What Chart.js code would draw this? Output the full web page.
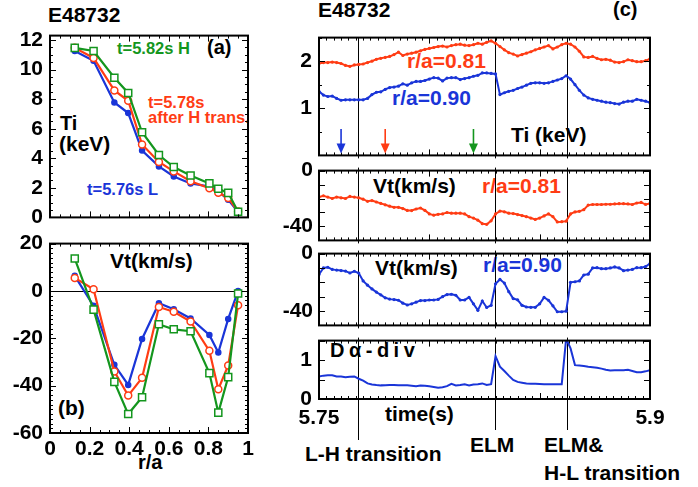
<!DOCTYPE html>
<html>
<head>
<meta charset="utf-8">
<script src="https://cdn.jsdelivr.net/npm/chart.js@4.4.0/dist/chart.umd.min.js"></script>
<style>
body { margin: 0; background: #fff; width: 698px; height: 487px; overflow: hidden; position: relative; }
canvas { position: absolute; }
.t { position: absolute; white-space: nowrap; line-height: 1; font-family: "Liberation Sans", Arial, sans-serif; font-weight: bold; color: #000; }
.s { font-size: 16.5px; }
.m { font-size: 20px; }
.l { font-size: 21px; }
.red { color: #ff3c14; }
.blue { color: #1a35d8; }
.green { color: #14961e; }
</style>
</head>
<body>
<!-- left panels -->
<div class="t l" style="left:48px;top:4px">E48732</div>
<div class="t m" style="left:207px;top:37px">(a)</div>
<div class="t s green" style="left:117px;top:40px">t=5.82s H</div>
<div class="t s red" style="left:148px;top:94px">t=5.78s</div>
<div class="t s red" style="left:148px;top:109px">after H trans.</div>
<div class="t m" style="left:60px;top:113px">Ti</div>
<div class="t l" style="left:59px;top:133px">(keV)</div>
<div class="t s blue" style="left:87px;top:181px">t=5.76s L</div>
<div class="t l" style="left:110px;top:250px">Vt(km/s)</div>
<div class="t l" style="left:58px;top:397px">(b)</div>
<div class="t m" style="left:138px;top:452px">r/a</div>
<!-- right panels -->
<div class="t l" style="left:318px;top:-1px">E48732</div>
<div class="t m" style="left:613px;top:-1px">(c)</div>
<div class="t l red" style="left:407px;top:50px">r/a=0.81</div>
<div class="t l blue" style="left:392px;top:87px">r/a=0.90</div>
<div class="t l" style="left:511px;top:124px">Ti (keV)</div>
<div class="t l" style="left:373px;top:175px">Vt(km/s)</div>
<div class="t l red" style="left:482px;top:175px">r/a=0.81</div>
<div class="t l" style="left:375px;top:257px">Vt(km/s)</div>
<div class="t l blue" style="left:483px;top:254px">r/a=0.90</div>
<div class="t m" style="left:330px;top:340px;letter-spacing:4.5px">Dα-div</div>
<div class="t l" style="left:385px;top:403px">time(s)</div>
<div class="t l" style="left:305px;top:443px">L-H transition</div>
<div class="t l" style="left:470px;top:434px">ELM</div>
<div class="t l" style="left:544px;top:434px">ELM&amp;</div>
<div class="t l" style="left:544px;top:462px">H-L transition</div>

<script>
// profiles vs r/a (panels a, b)
var rA = [0.125, 0.22, 0.325, 0.395, 0.465, 0.55, 0.625, 0.71, 0.805, 0.85, 0.90, 0.95];
var tiH = [11.47, 11.26, 9.45, 8.42, 5.76, 4.22, 3.41, 2.84, 2.30, 1.94, 1.66, 0.38];
var tiA = [11.47, 10.79, 8.59, 7.89, 4.93, 3.75, 3.11, 2.45, 1.98, 1.66, 1.32, 0.40];
var tiL = [11.26, 10.6, 7.78, 7.06, 4.52, 3.45, 2.77, 2.30, 2.09, 1.77, 1.19, 0.38];
var vtH = [13.7, -7.9, -38.4, -52, -44.9, -14.1, -16.2, -17, -34.7, -51.4, -36.4, -1.1];
var vtA = [5.5, 0.7, -34, -44.2, -36.7, -6.8, -8.8, -12.9, -25.3, -41.5, -31.5, -6];
var vtL = [6.4, -6.3, -31.2, -39.7, -20.3, -5.2, -7.7, -11.6, -18.6, -26, -11.8, 0];

// time traces (panel c and below)
var tms = [5.750,5.752,5.754,5.756,5.758,5.760,5.762,5.764,5.766,5.768,
  5.770,5.772,5.774,5.776,5.778,5.780,5.782,5.784,5.786,5.788,
  5.790,5.792,5.794,5.796,5.798,5.800,5.802,5.804,5.806,5.808,
  5.810,5.812,5.814,5.816,5.818,5.820,5.822,5.824,5.826,5.828,
  5.830,5.832,5.834,5.836,5.838,5.840,5.842,5.844,5.846,5.848,
  5.850,5.852,5.854,5.856,5.858,5.860,5.862,5.864,5.866,5.868,
  5.870,5.872,5.874,5.876,5.878,5.880,5.882,5.884,5.886,5.888,
  5.890,5.892,5.894,5.896,5.898,5.900];
var ti81 = [1.95,1.97,1.97,1.98,1.97,1.95,1.91,1.89,1.92,1.93,
  1.94,1.97,2.00,2.04,2.06,2.08,2.10,2.14,2.19,2.12,
  2.15,2.17,2.19,2.22,2.25,2.27,2.29,2.31,2.32,2.30,
  2.33,2.35,2.36,2.34,2.33,2.35,2.38,2.36,2.40,2.43,
  2.38,2.31,2.24,2.18,2.15,2.11,2.14,2.17,2.20,2.24,
  2.27,2.30,2.33,2.26,2.30,2.35,2.38,2.36,2.30,2.21,
  2.09,2.08,2.10,2.06,2.03,2.04,2.02,1.98,1.97,1.99,
  2.03,2.01,1.99,1.99,2.01,2.05];
var ti90 = [1.36,1.28,1.25,1.26,1.21,1.17,1.18,1.18,1.18,1.18,
  1.18,1.21,1.29,1.34,1.35,1.40,1.44,1.45,1.47,1.52,
  1.49,1.54,1.57,1.57,1.59,1.62,1.65,1.64,1.58,1.64,
  1.65,1.65,1.61,1.63,1.65,1.68,1.70,1.75,1.75,1.74,
  1.73,1.29,1.33,1.36,1.38,1.42,1.45,1.49,1.53,1.54,
  1.54,1.53,1.54,1.57,1.60,1.63,1.69,1.62,1.50,1.38,
  1.28,1.22,1.19,1.17,1.15,1.13,1.12,1.10,1.09,1.13,
  1.15,1.15,1.19,1.17,1.15,1.12];
var vt81 = [-19,-18,-19,-20,-19,-19.5,-20,-18.5,-19,-19.5,
  -20.5,-22,-21.5,-22.5,-23.5,-24.5,-25.5,-26.3,-26.3,-27.2,
  -28.5,-28.6,-27.5,-26.8,-28.5,-31,-31.9,-31.3,-31,-30,
  -30.5,-30.5,-30.5,-31,-33,-34,-35.5,-38,-38.5,-36,
  -31,-29,-29.5,-30.5,-30.8,-31.5,-32.2,-33,-34,-35,
  -34,-32.5,-31,-33,-36.8,-36.6,-36.2,-31,-29.6,-29.2,
  -28,-24.7,-24.3,-24.3,-24.3,-24.1,-24.1,-23.9,-23.7,-23.7,
  -23.9,-24.3,-23.2,-22.8,-24.2,-23.5];
var vt90 = [-14.5,-10,-9.5,-11,-11.5,-11.8,-12.2,-13.5,-12.3,-13.5,
  -19,-22,-24.6,-26.8,-28.7,-30.8,-31.7,-32,-32.5,-34.5,
  -35.8,-35,-33.8,-32.7,-32.7,-32.3,-32.3,-31.9,-30,-28.5,
  -28.3,-29,-32.3,-32.3,-30.5,-35,-39.5,-33,-37.5,-36,
  -21,-18,-20.5,-26.5,-31.3,-32.2,-36,-37.2,-37.4,-37.4,
  -35,-30.5,-32.5,-36.4,-40.5,-40.5,-40.1,-20,-19.6,-19,
  -14.9,-14.3,-10,-9.8,-10.5,-10.5,-10,-9.3,-10,-11.9,
  -11.5,-11,-9.8,-9.8,-9,-7];
var dAlpha = [0.58,0.60,0.61,0.61,0.58,0.575,0.56,0.57,0.58,0.52,
  0.47,0.40,0.375,0.36,0.35,0.355,0.36,0.36,0.355,0.35,
  0.35,0.34,0.33,0.345,0.34,0.325,0.31,0.29,0.30,0.33,
  0.39,0.35,0.36,0.38,0.35,0.37,0.38,0.40,0.36,0.38,
  1.10,0.83,0.72,0.60,0.49,0.44,0.42,0.40,0.39,0.39,
  0.385,0.38,0.38,0.38,0.38,0.38,1.55,1.30,0.87,0.86,
  0.85,0.83,0.815,0.80,0.78,0.75,0.735,0.736,0.736,0.74,
  0.75,0.72,0.69,0.69,0.71,0.74];

// event markers
var eventTimes = [5.7677, 5.8299, 5.8625];
var arrowTimes = [5.76, 5.78, 5.82];

var RED = '#ff3c14', BLUE = '#1a35d8', GREEN = '#14961e';
var arrowColors = [BLUE, RED, GREEN];

Chart.defaults.font.family = '"Liberation Sans", Arial, sans-serif';
Chart.defaults.font.size = 21;
Chart.defaults.font.weight = 'bold';
Chart.defaults.color = '#000';

function pts(xs, ys) {
  return xs.map(function (x, i) { return { x: x, y: ys[i] }; });
}

function inTicks(ctx, scale, step, every, horiz, a) {
  var n = Math.floor((scale.max - scale.min) / step + 1e-6);
  for (var i = 0; i <= n; i++) {
    var p = Math.round(scale.getPixelForValue(scale.min + i * step)) + 0.5;
    var len = (i % every === 0) ? 6 : 3;
    if (horiz) {
      ctx.moveTo(p, a.bottom); ctx.lineTo(p, a.bottom - len);
      ctx.moveTo(p, a.top); ctx.lineTo(p, a.top + len);
    } else {
      ctx.moveTo(a.left, p); ctx.lineTo(a.left + len, p);
      ctx.moveTo(a.right, p); ctx.lineTo(a.right - len, p);
    }
  }
}

var decoPlugin = {
  id: 'deco',
  beforeDatasetsDraw: function (chart, args, o) {
    var ctx = chart.ctx, a = chart.chartArea, xs = chart.scales.x, ys = chart.scales.y;
    ctx.save();
    ctx.strokeStyle = '#000';
    ctx.lineWidth = 1;
    ctx.beginPath();
    if (o.zero) {
      var py = Math.round(ys.getPixelForValue(0)) + 0.5;
      ctx.moveTo(a.left, py); ctx.lineTo(a.right, py);
    }
    if (o.events) {
      eventTimes.forEach(function (t, i) {
        var px = Math.round(xs.getPixelForValue(t)) + 0.5;
        ctx.moveTo(px, a.top - o.evTop);
        ctx.lineTo(px, a.bottom + o.evBot[i]);
      });
    }
    ctx.stroke();
    ctx.restore();
  },
  afterDraw: function (chart, args, o) {
    var ctx = chart.ctx, a = chart.chartArea, xs = chart.scales.x, ys = chart.scales.y;
    ctx.save();
    ctx.strokeStyle = '#000';
    ctx.lineWidth = 1;
    ctx.beginPath();
    inTicks(ctx, xs, o.xStep, o.xEvery, true, a);
    inTicks(ctx, ys, o.yStep, o.yEvery, false, a);
    ctx.stroke();
    ctx.lineWidth = 2;
    ctx.strokeRect(a.left, a.top, a.right - a.left, a.bottom - a.top);
    if (o.arrows) {
      arrowTimes.forEach(function (t, i) {
        var px = xs.getPixelForValue(t);
        var y1 = ys.getPixelForValue(0.56), y2 = ys.getPixelForValue(0.04);
        ctx.strokeStyle = arrowColors[i];
        ctx.fillStyle = arrowColors[i];
        ctx.lineWidth = 1.6;
        ctx.beginPath();
        ctx.moveTo(px, y1); ctx.lineTo(px, y2 - 8);
        ctx.stroke();
        ctx.beginPath();
        ctx.moveTo(px - 4.5, y2 - 10); ctx.lineTo(px + 4.5, y2 - 10); ctx.lineTo(px, y2);
        ctx.closePath();
        ctx.fill();
      });
    }
    ctx.restore();
  }
};

function panel(box, xCfg, yCfg, datasets, deco) {
  var L = box.l, R = 22, T = 14, B = box.b;
  var cv = document.createElement('canvas');
  cv.width = box.w + L + R;
  cv.height = box.h + T + B;
  cv.style.left = (box.x - L) + 'px';
  cv.style.top = (box.y - T) + 'px';
  document.body.appendChild(cv);
  var base = function (fitFn) {
    return { type: 'linear', grid: { display: false, drawTicks: false }, border: { display: false }, afterFit: fitFn };
  };
  return new Chart(cv, {
    type: 'line',
    data: { datasets: datasets },
    options: {
      responsive: false,
      animation: false,
      events: [],
      layout: { padding: { left: 0, top: T, right: R, bottom: 0 } },
      plugins: { legend: { display: false }, tooltip: { enabled: false }, deco: deco },
      scales: {
        x: Object.assign(base(function (s) { s.height = B; }), xCfg),
        y: Object.assign(base(function (s) { s.width = L; }), yCfg)
      }
    },
    plugins: [decoPlugin]
  });
}

function profSet(ys, color, style, r, hollow) {
  return {
    data: pts(rA, ys), borderColor: color, borderWidth: 2.2,
    pointStyle: style, pointRadius: r,
    pointBackgroundColor: hollow ? '#fff' : color,
    pointBorderColor: color, pointBorderWidth: 1.5
  };
}
function timeSet(ys, color) {
  return {
    data: pts(tms, ys), borderColor: color, borderWidth: 2,
    pointRadius: 1.6, pointBackgroundColor: color, pointBorderWidth: 0
  };
}

var fmt = function (v) { return String(+v.toFixed(2)); };
var rX = { min: 0, max: 1, ticks: { display: false, stepSize: 0.2 } };

// (a) Ti profiles
panel({ x: 50, y: 30, w: 198, h: 193, l: 50, b: 14 }, rX,
  { min: 0, max: 12.3, ticks: { stepSize: 2, includeBounds: false, autoSkip: false, padding: 7, callback: fmt } },
  [profSet(tiH, GREEN, 'rect', 5, true), profSet(tiA, RED, 'circle', 3.5, true), profSet(tiL, BLUE, 'circle', 2.5, false)],
  { xStep: 0.05, xEvery: 4, yStep: 0.5, yEvery: 4 });

// (b) Vt profiles
panel({ x: 50, y: 238, w: 198, h: 195, l: 50, b: 40 },
  { min: 0, max: 1, ticks: { stepSize: 0.2, autoSkip: false, maxRotation: 0, padding: 4, callback: fmt } },
  { min: -60, max: 20, ticks: { stepSize: 20, autoSkip: false, padding: 7, callback: fmt } },
  [profSet(vtH, GREEN, 'rect', 5, true), profSet(vtA, RED, 'circle', 3.5, true), profSet(vtL, BLUE, 'circle', 2.5, false)],
  { xStep: 0.05, xEvery: 4, yStep: 2, yEvery: 10, zero: true });

// time panels
var tX = { min: 5.75, max: 5.9, ticks: { display: false, stepSize: 0.05 } };
var tStep = 0.05 / 15;

panel({ x: 319, y: 32, w: 331, h: 129, l: 60, b: 14 }, tX,
  { min: 0, max: 2.5, ticks: { stepSize: 1, includeBounds: false, autoSkip: false, padding: 7,
      callback: function (v) { return v === 0 ? '' : fmt(v); } } },
  [timeSet(ti81, RED), timeSet(ti90, BLUE)],
  { xStep: tStep, xEvery: 15, yStep: 0.5, yEvery: 2, events: true, evTop: 0, evBot: [3, 3, 3], arrows: true });

var vtY = { min: -50, max: 0, ticks: { stepSize: 10, autoSkip: false, padding: 6,
    callback: function (v) { return (v === 0 || v === -40) ? fmt(v) : ''; } } };

panel({ x: 319, y: 166, w: 331, h: 79, l: 60, b: 14 }, tX, vtY,
  [timeSet(vt81, RED)],
  { xStep: tStep, xEvery: 15, yStep: 10, yEvery: 1, events: true, evTop: 3, evBot: [3, 3, 3] });

panel({ x: 319, y: 249, w: 331, h: 81, l: 60, b: 14 }, tX, vtY,
  [timeSet(vt90, BLUE)],
  { xStep: tStep, xEvery: 15, yStep: 10, yEvery: 1, events: true, evTop: 3, evBot: [3, 3, 3] });

panel({ x: 319, y: 335, w: 331, h: 64, l: 60, b: 92 },
  { min: 5.75, max: 5.9, ticks: { stepSize: 0.05, autoSkip: false, maxRotation: 0, padding: 7,
      callback: function (v) { return Math.abs(v - 5.75) < 1e-6 ? '5.75' : (Math.abs(v - 5.9) < 1e-6 ? '5.9' : ''); } } },
  { min: 0, max: 1.5, ticks: { stepSize: 0.5, autoSkip: false, padding: 7,
      callback: function (v) { return Number.isInteger(v) ? fmt(v) : ''; } } },
  [{ data: pts(tms, dAlpha), borderColor: BLUE, borderWidth: 2, pointRadius: 0, clip: 0 }],
  { xStep: tStep, xEvery: 15, yStep: 0.5, yEvery: 1, events: true, evTop: 3, evBot: [41, 31, 31] });
</script>
</body>
</html>
